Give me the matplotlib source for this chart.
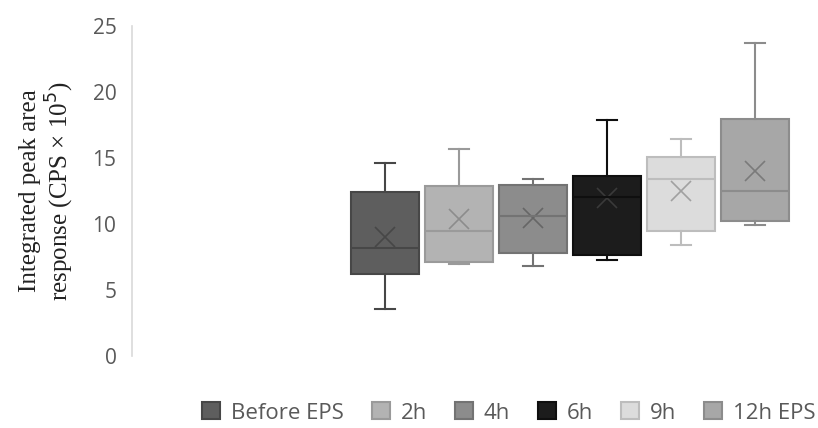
import matplotlib
matplotlib.use('Agg')
import matplotlib.pyplot as plt
from matplotlib.patches import Patch

# Datos (CPS x 10^5)
groups = ['Before EPS', '2h', '4h', '6h', '9h', '12h EPS']
whisker_low = [3.6, 6.95, 6.8, 7.3, 8.4, 9.9]
q1 = [6.2, 7.1, 7.8, 7.65, 9.45, 10.2]
median = [8.2, 9.45, 10.6, 12.05, 13.4, 12.5]
q3 = [12.45, 12.9, 13.0, 13.65, 15.05, 18.0]
whisker_high = [14.6, 15.7, 13.4, 17.9, 16.45, 23.7]
mean = [9.0, 10.4, 10.5, 12.0, 12.5, 14.0]

fills = ['#5e5e5e', '#b3b3b3', '#8c8c8c', '#1c1c1c', '#dcdcdc', '#a7a7a7']
edges = ['#474747', '#9a9a9a', '#737373', '#0f0f0f', '#bdbdbd', '#8c8c8c']
mean_cols = ['#474747', '#8c8c8c', '#666666', '#3a3a3a', '#a0a0a0', '#7a7a7a']

stats = []
for i, g in enumerate(groups):
    stats.append({'label': g, 'whislo': whisker_low[i], 'q1': q1[i], 'med': median[i],
                  'q3': q3[i], 'whishi': whisker_high[i], 'fliers': []})

fig = plt.figure(figsize=(8.18, 4.28), dpi=100)
ax = fig.add_axes([0.161, 0.168, 0.839, 0.771])

pos = list(range(len(groups)))
for i in pos:
    ax.bxp([stats[i]], positions=[i], widths=0.92, patch_artist=True,
           showfliers=False,
           boxprops=dict(facecolor=fills[i], edgecolor=edges[i], linewidth=1.5),
           medianprops=dict(color=edges[i], linewidth=1.5),
           whiskerprops=dict(color=edges[i], linewidth=1.5),
           capprops=dict(color=edges[i], linewidth=1.5),
           capwidths=0.28)
    ax.plot(i, mean[i], marker='x', markersize=14, mew=1.2, color=mean_cols[i], linestyle='none')

ax.set_ylim(0, 25)
ax.set_xlim(-3.42, 5.85)
ax.set_yticks([0, 5, 10, 15, 20, 25])
ax.set_xticks([])
ax.tick_params(axis='y', length=0, pad=11, labelsize=15, labelcolor='#595959')
for lab in ax.get_yticklabels():
    lab.set_fontfamily('Open Sans')
for s in ['top', 'right', 'bottom']:
    ax.spines[s].set_visible(False)
ax.spines['left'].set_color('#d9d9d9')
ax.spines['left'].set_linewidth(1.2)

ax.set_ylabel('Integrated peak area\nresponse (CPS × 10$^5$)', family='Liberation Serif',
              fontsize=18, color='#222222', labelpad=12, linespacing=1.1)

handles = [Patch(facecolor=fills[i], edgecolor=edges[i], linewidth=1.5) for i in pos]
leg = fig.legend(handles, groups, loc='center', bbox_to_anchor=(0.622, 0.035), ncol=6,
                 frameon=False, handlelength=0.8, handleheight=0.8, handletextpad=0.5,
                 columnspacing=1.25, prop={'family': 'Open Sans', 'size': 16})
for t in leg.get_texts():
    t.set_color('#595959')

fig.savefig('out.png', dpi=100)
